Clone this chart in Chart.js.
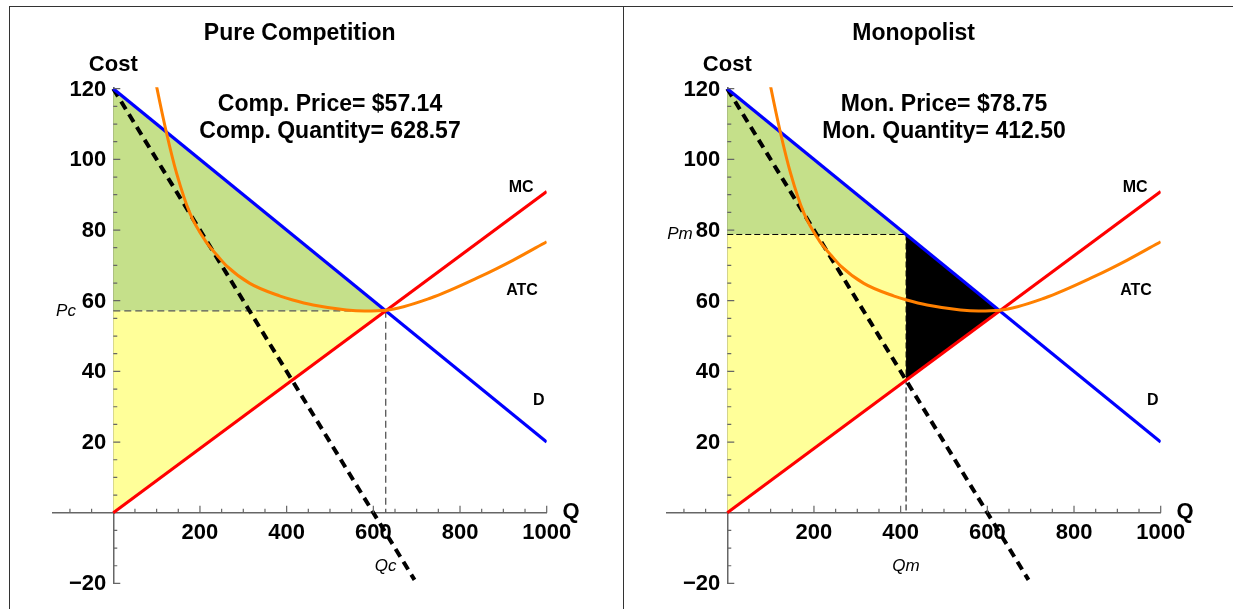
<!DOCTYPE html>
<html><head><meta charset="utf-8">
<script src="https://cdn.jsdelivr.net/npm/chart.js@4.4.1/dist/chart.umd.min.js"></script>
<style>
html,body{margin:0;padding:0;background:#fff;width:1233px;height:609px;overflow:hidden;}
#wrap{position:relative;width:1233px;height:609px;}
.pane{position:absolute;top:0;width:614px;height:609px;}
.fr{position:absolute;background:#333;}
</style></head><body>
<div id="wrap">
<div class="pane" style="left:0"><canvas id="c1" width="614" height="609"></canvas></div>
<div class="pane" style="left:614px"><canvas id="c2" width="614" height="609"></canvas></div>
<div class="fr" style="left:9px;top:6px;width:1224px;height:1px"></div>
<div class="fr" style="left:9px;top:6px;width:1px;height:603px"></div>
<div class="fr" style="left:623px;top:6px;width:1px;height:603px"></div>
</div>
<script>
// ---- data ----
const demandQ = [0, 1000];
const demandP = [120, 20];
const mcQ = [0, 1000];
const mcP = [0, 90.9];
const mrQ = [0, 695];
const mrP = [120, -19];
const atcQ = [97, 100, 123, 146, 177, 215, 240, 262, 315, 385, 414, 461, 538, 580, 629, 731, 846, 923, 1000];
const atcP = [122.5, 120.6, 107.4, 96.1, 84.7, 76.5, 72.8, 69.8, 64.9, 61.3, 60.2, 58.8, 57.4, 57.1, 57.3, 60.7, 66.8, 71.5, 76.7];
const compPrice = 57.14;
const compQty = 628.57;
const monPrice = 78.75;
const monQty = 412.50;
const mcAtMonQty = 37.5;
const xRange = [-140, 1000];
const yRange = [-20, 120.4];
const xTicks = [200, 400, 600, 800, 1000];
const xTickLabels = ['200', '400', '600', '800', '1000'];
const yTicks = [-20, 20, 40, 60, 80, 100, 120];
const yTickLabels = ['\u221220', '20', '40', '60', '80', '100', '120'];

const FONT = "'Liberation Sans', Arial, Helvetica, sans-serif";
const pts = (qs, ps) => qs.map((q, i) => ({x: q, y: ps[i]}));

function baseLines() {
  return [
    {data: pts(atcQ, atcP), borderColor: '#ff8000', borderWidth: 3, cubicInterpolationMode: 'monotone', clip: 0},
    {data: pts(mcQ, mcP), borderColor: '#ff0000', borderWidth: 3},
    {data: pts(demandQ, demandP), borderColor: '#0000ff', borderWidth: 3.3},
    {data: pts(mrQ, mrP), borderColor: '#000', borderWidth: 4, borderDash: [9, 6]}
  ];
}

const GREEN = '#c5e08a', YELLOW = '#ffff99';

const leftSets = baseLines().concat([
  {data: pts([0, compQty], [compPrice, compPrice]), borderColor: '#555', borderWidth: 1.4, borderDash: [7, 4]},
  {data: pts([compQty, compQty], [compPrice, 0]), borderColor: '#555', borderWidth: 1.3, borderDash: [7, 4]},
  {data: pts([0, compQty, 0], [compPrice, compPrice, 0]), borderWidth: 0, fill: 'shape', backgroundColor: YELLOW},
  {data: pts([0, compQty, 0], [demandP[0], compPrice, compPrice]), borderWidth: 0, fill: 'shape', backgroundColor: GREEN}
]);

const rightSets = baseLines().concat([
  {data: pts([0, monQty], [monPrice, monPrice]), borderColor: '#000', borderWidth: 1, borderDash: [6, 3]},
  {data: pts([monQty, monQty], [monPrice, 0]), borderColor: '#000', borderWidth: 1, borderDash: [6, 3]},
  {data: pts([monQty, compQty, monQty], [monPrice, compPrice, mcAtMonQty]), borderWidth: 0, fill: 'shape', backgroundColor: '#000'},
  {data: pts([0, monQty, monQty, 0], [monPrice, monPrice, mcAtMonQty, 0]), borderWidth: 0, fill: 'shape', backgroundColor: YELLOW},
  {data: pts([0, monQty, 0], [demandP[0], monPrice, monPrice]), borderWidth: 0, fill: 'shape', backgroundColor: GREEN}
]);

const leftTexts = [
  {q: 430, p: 135.5, t: 'Pure Competition', f: 'bold 23px'},
  {q: 0, p: 126.6, t: 'Cost', f: 'bold 22px'},
  {q: 500, p: 115.4, t: 'Comp. Price= $57.14', f: 'bold 23px'},
  {q: 500, p: 107.8, t: 'Comp. Quantity= 628.57', f: 'bold 23px'},
  {q: 941, p: 91.9, t: 'MC', f: 'bold 16px'},
  {q: 943, p: 63, t: 'ATC', f: 'bold 16px'},
  {q: 982, p: 31.8, t: 'D', f: 'bold 16px'},
  {q: 1056, p: 0.3, t: 'Q', f: 'bold 22px'},
  {q: -109, p: compPrice, t: 'Pc', f: 'italic 17px'},
  {q: compQty, p: -15.1, t: 'Qc', f: 'italic 17px'}
];
const rightTexts = [
  {q: 430, p: 135.5, t: 'Monopolist', f: 'bold 23px'},
  {q: 0, p: 126.6, t: 'Cost', f: 'bold 22px'},
  {q: 500, p: 115.4, t: 'Mon. Price= $78.75', f: 'bold 23px'},
  {q: 500, p: 107.8, t: 'Mon. Quantity= 412.50', f: 'bold 23px'},
  {q: 941, p: 91.9, t: 'MC', f: 'bold 16px'},
  {q: 943, p: 63, t: 'ATC', f: 'bold 16px'},
  {q: 982, p: 31.8, t: 'D', f: 'bold 16px'},
  {q: 1056, p: 0.3, t: 'Q', f: 'bold 22px'},
  {q: -109, p: monPrice, t: 'Pm', f: 'italic 17px'},
  {q: monQty, p: -15.1, t: 'Qm', f: 'italic 17px'}
];

function decor(texts) {
  return {
    id: 'decor',
    afterDraw(chart) {
      const ctx = chart.ctx, xs = chart.scales.x, ys = chart.scales.y;
      const x0 = xs.getPixelForValue(0), y0 = ys.getPixelForValue(0);
      ctx.save();
      ctx.strokeStyle = '#666';
      ctx.lineWidth = 1.2;
      ctx.beginPath();
      for (let q = -100; q <= 1000; q += 50) {
        if (q === 0) continue;
        const px = xs.getPixelForValue(q);
        const len = q % 200 === 0 ? 7 : 4;
        ctx.moveTo(px, y0); ctx.lineTo(px, y0 - len);
      }
      for (let p = -20; p <= 120; p += 5) {
        if (p === 0) continue;
        const py = ys.getPixelForValue(p);
        const len = p % 20 === 0 ? 7 : 4;
        ctx.moveTo(x0, py); ctx.lineTo(x0 + len, py);
      }
      ctx.stroke();
      ctx.fillStyle = '#000';
      // y tick labels, right-aligned left of the axis
      ctx.font = 'bold 22px ' + FONT;
      ctx.textAlign = 'right';
      ctx.textBaseline = 'middle';
      yTicks.forEach((v, i) => {
        ctx.fillText(yTickLabels[i], x0 - 7, ys.getPixelForValue(v) + 1);
      });
      ctx.textAlign = 'center';
      texts.forEach(o => {
        ctx.font = o.f + ' ' + FONT;
        ctx.fillText(o.t, xs.getPixelForValue(o.q), ys.getPixelForValue(o.p));
      });
      ctx.restore();
    }
  };
}

function make(id, sets, texts) {
  sets.forEach(d => { d.pointRadius = 0; d.pointHoverRadius = 0; if (d.fill === undefined) d.fill = false; });
  return new Chart(document.getElementById(id), {
    type: 'line',
    data: {datasets: sets},
    options: {
      responsive: false, animation: false, devicePixelRatio: 1,
      layout: {padding: {left: 52.6, right: 67.3, top: 87.3, bottom: 25.6}},
      plugins: {legend: {display: false}, tooltip: {enabled: false}},
      elements: {line: {tension: 0}},
      scales: {
        x: {
          type: 'linear', min: xRange[0], max: xRange[1], position: {y: 0}, z: 1,
          afterBuildTicks: s => { s.ticks = xTicks.map(v => ({value: v})); },
          ticks: {autoSkip: false, maxRotation: 0, padding: 7, color: '#000',
            font: {family: FONT, size: 22, weight: 'bold'},
            callback: (v, i) => xTickLabels[i]},
          grid: {display: true, drawOnChartArea: false, drawTicks: false, color: 'rgba(0,0,0,0)'},
          border: {display: true, color: '#666', width: 1.5}
        },
        y: {
          type: 'linear', min: yRange[0], max: yRange[1], position: {x: 0}, z: 1,
          afterBuildTicks: s => { s.ticks = yTicks.map(v => ({value: v})); },
          ticks: {display: false},
          grid: {display: true, drawOnChartArea: false, drawTicks: false, color: 'rgba(0,0,0,0)'},
          border: {display: true, color: '#666', width: 1.5}
        }
      }
    },
    plugins: [decor(texts)]
  });
}

make('c1', leftSets, leftTexts);
make('c2', rightSets, rightTexts);
</script>
</body></html>
